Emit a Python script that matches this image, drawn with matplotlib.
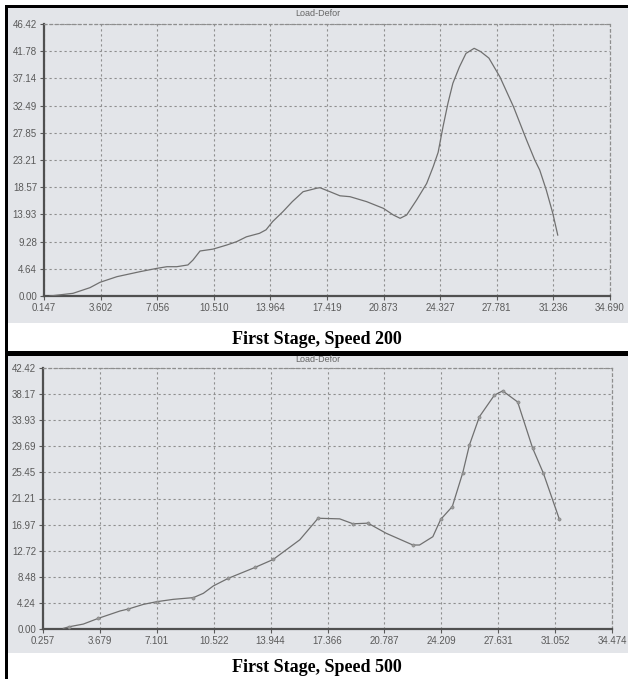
import matplotlib
matplotlib.use("Agg")
import matplotlib.pyplot as plt
from matplotlib.patches import Rectangle
import numpy as np

W, H = 628, 679

# ---- Data: First Stage, Speed 200 ----
x200 = [0.51, 1.92, 2.95, 3.56, 4.60, 6.00, 7.04, 7.65, 8.25, 8.93, 9.24, 9.67, 10.46,
        11.30, 11.90, 12.50, 13.30, 13.70, 14.10, 14.73, 15.30, 15.96, 16.80, 16.99,
        17.60, 18.21, 18.82, 19.84, 20.86, 21.47, 21.88, 22.28, 22.89, 23.50, 23.90,
        24.20, 24.50, 24.80, 25.10, 25.50, 25.90, 26.40, 26.80, 27.30, 27.97, 28.80,
        29.60, 30.10, 30.40, 30.80, 31.20, 31.50]
y200 = [0.00, 0.46, 1.42, 2.33, 3.30, 4.15, 4.72, 5.00, 5.00, 5.30, 6.14, 7.68, 8.00,
        8.70, 9.27, 10.10, 10.70, 11.30, 12.70, 14.40, 16.10, 17.80, 18.40, 18.48,
        17.80, 17.10, 16.95, 16.10, 14.96, 13.82, 13.26, 13.82, 16.40, 19.20, 22.07,
        24.50, 28.90, 32.90, 36.30, 39.10, 41.40, 42.27, 41.70, 40.60, 37.40, 32.30,
        26.60, 23.20, 21.50, 18.10, 14.10, 10.40]
xt200 = ["0.147", "3.602", "7.056", "10.510", "13.964", "17.419", "20.873",
         "24.327", "27.781", "31.236", "34.690"]
yt200 = ["0.00", "4.64", "9.28", "13.93", "18.57", "23.21", "27.85", "32.49",
         "37.14", "41.78", "46.42"]

# ---- Data: First Stage, Speed 500 ----
x500 = [1.48, 1.84, 2.68, 3.58, 4.89, 5.39, 6.29, 7.10, 8.09, 9.30, 9.90, 10.50,
        11.40, 13.00, 14.10, 15.70, 16.80, 18.10, 18.90, 19.80, 20.90, 22.50, 22.90,
        23.70, 24.17, 24.87, 25.50, 25.90, 26.50, 27.40, 27.90, 28.80, 29.70, 30.35,
        31.30]
y500 = [0.10, 0.37, 0.80, 1.73, 2.93, 3.25, 4.00, 4.44, 4.82, 5.10, 5.80, 7.00,
        8.24, 10.00, 11.30, 14.50, 18.00, 17.90, 17.10, 17.20, 15.55, 13.65, 13.65,
        15.00, 17.80, 19.90, 25.40, 29.90, 34.50, 38.00, 38.70, 36.90, 29.40, 25.30,
        17.90]
marked500 = [1, 3, 5, 7, 9, 12, 13, 14, 16, 18, 19, 21, 24, 25, 26, 27, 28, 29,
             30, 31, 32, 33, 34]
xt500 = ["0.257", "3.679", "7.101", "10.522", "13.944", "17.366", "20.787",
         "24.209", "27.631", "31.052", "34.474"]
yt500 = ["0.00", "4.24", "8.48", "12.72", "16.97", "21.21", "25.45", "29.69",
         "33.93", "38.17", "42.42"]

PANEL = "#e3e5e9"
LINE = "#707070"
TXT = "#5a5a5a"
GRID = "#8e8e8e"

fig = plt.figure(figsize=(W / 100, H / 100), dpi=100)
fig.patch.set_facecolor("white")


def frect(x0, y0, x1, y1, color):
    fig.add_artist(Rectangle((x0 / W, 1 - y1 / H), (x1 - x0) / W, (y1 - y0) / H,
                             transform=fig.transFigure, facecolor=color,
                             edgecolor="none", zorder=0))


# panel backgrounds
frect(8, 8, 628, 323, PANEL)
frect(8, 356, 628, 653, PANEL)
# black borders
frect(5, 5, 628, 8, "black")
frect(5, 5, 8, 679, "black")
frect(5, 351, 628, 356, "black")


def make_axes(l, t, r, b, xs, ys, xticks, yticks, title_y, caption, cap_y,
              marks=None):
    ax = fig.add_axes([l / W, 1 - b / H, (r - l) / W, (b - t) / H])
    ax.set_facecolor(PANEL)
    x0, x1 = float(xticks[0]), float(xticks[-1])
    y1 = float(yticks[-1])
    xtv = np.linspace(x0, x1, len(xticks))
    ytv = np.linspace(0, y1, len(yticks))
    ax.set_xlim(x0, x1)
    ax.set_ylim(0, y1)
    ax.set_xticks(xtv)
    ax.set_xticklabels(xticks)
    ax.set_yticks(ytv)
    ax.set_yticklabels(yticks)
    ax.tick_params(axis="both", labelsize=7, colors=TXT, length=3, width=0.8,
                   pad=2)
    for lab in ax.get_xticklabels() + ax.get_yticklabels():
        lab.set_family("Liberation Sans")
        lab.set_color(TXT)
    ax.grid(True, color=GRID, linestyle=(0, (2, 2.5)), linewidth=0.8)
    for s in ("left", "bottom"):
        ax.spines[s].set_color("#505050")
        ax.spines[s].set_linewidth(1.6)
    for s in ("top", "right"):
        ax.spines[s].set_color(GRID)
        ax.spines[s].set_linestyle((0, (2, 2.5)))
        ax.spines[s].set_linewidth(0.9)
    if marks is None:
        ax.plot(xs, ys, color=LINE, linewidth=0.9, zorder=3)
    else:
        ax.plot(xs, ys, color=LINE, linewidth=0.9, zorder=3, marker="o",
                markersize=2.3, markevery=marks, markerfacecolor="#999999",
                markeredgecolor="#808080", markeredgewidth=0.4)
    fig.text(318 / W, 1 - title_y / H, "Load-Defor", ha="center", va="center",
             fontsize=6.5, color="#666666", family="Liberation Sans")
    fig.text(317 / W, 1 - cap_y / H, caption, ha="center", va="center",
             fontsize=13, fontweight="bold", family="Liberation Serif",
             color="black")
    return ax


make_axes(44, 24, 610, 296, x200, y200, xt200, yt200, 14,
          "First Stage, Speed 200", 340)
make_axes(43, 368, 612, 629, x500, y500, xt500, yt500, 360,
          "First Stage, Speed 500", 667, marks=marked500)

fig.savefig("out.png", dpi=100)
